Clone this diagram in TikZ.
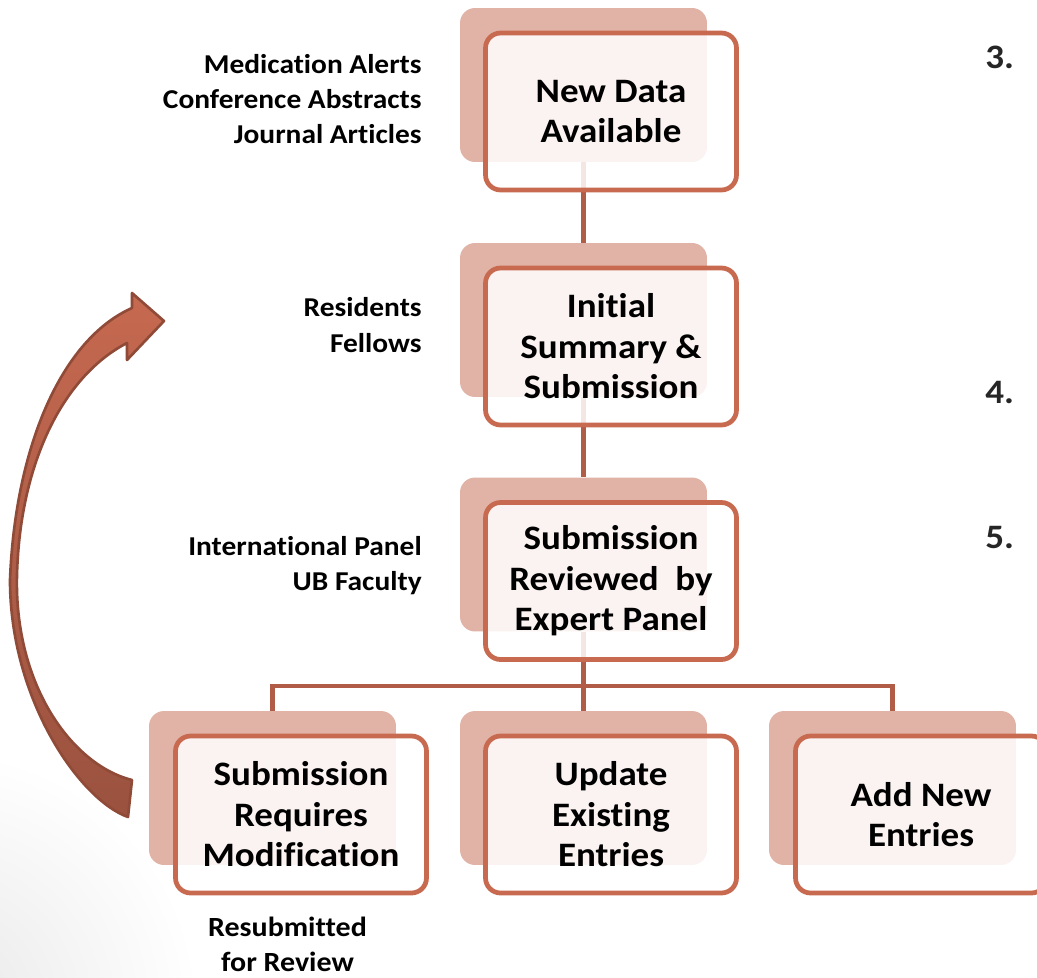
\documentclass[tikz,border=0pt]{standalone}
\usepackage{fontspec}
\setmainfont{Carlito}[FakeStretch=1.08, Ligatures=NoCommon]
\usetikzlibrary{positioning}

\definecolor{rust}{HTML}{C86A50}
\definecolor{blush}{HTML}{E1B3A6}
\definecolor{linkcol}{HTML}{B05C47}
\definecolor{arrowlight}{HTML}{C66950}
\definecolor{arrowdark}{HTML}{9A523F}
\definecolor{arrowedge}{HTML}{8F4A38}

\tikzset{
	backcard/.style={rectangle, rounded corners=0.3cm, fill=blush,
		minimum width=4.94cm, minimum height=3.08cm},
	card/.style={rectangle, rounded corners=0.3cm, draw=rust, line width=2.7pt,
		fill=white, fill opacity=0.85, text opacity=1,
		minimum width=5.02cm, minimum height=3.14cm, align=center,
		font=\fontsize{19.5}{23}\selectfont\bfseries},
	side/.style={align=right, anchor=east, inner sep=0pt,
		font=\fontsize{15.5}{20}\selectfont\bfseries},
	stepnum/.style={anchor=west, inner sep=0pt, text=black!85,
		font=\fontsize{19.5}{23}\selectfont\bfseries},
	link/.style={draw=linkcol, line width=2.7pt},
}

\begin{document}
\begin{tikzpicture}[x=0.02cm, y=-0.02cm]
	\useasboundingbox (0,0) rectangle (1037,977);
	\fill[white] (0,0) rectangle (1037,977);
	\begin{scope}
		\clip (0,0) rectangle (1037,977);
		\shade[inner color=black!9, outer color=white] (-60,1010) circle (260);
	\end{scope}

	% shadow cards
	\node[backcard] (new) at (583.5,85) {};
	\node[backcard] (init) at (583.5,320) {};
	\node[backcard] (rev) at (583.5,554.5) {};
	\node[backcard] (modif) at (272.5,788) {};
	\node[backcard] (update) at (583.5,788) {};
	\node[backcard] (add) at (892.5,788) {};

	% tree lines
	\coordinate (fork) at (583.5,686);
	\draw[link] (new.south) -- (init.north);
	\draw[link] (init.south) -- (rev.north);
	\draw[link] (rev.south) -- (update.north);
	\draw[link] (modif.north) |- (fork) -| (add.north);

	% front cards
	\node[card] (newF) at ([shift={(27.5,26.5)}]new) {New Data\\Available};
	\node[card] (initF) at ([shift={(27.5,26.5)}]init) {Initial\\Summary \&\\Submission};
	\node[card] (revF) at ([shift={(27.5,26.5)}]rev) {Submission\\Reviewed~ by\\Expert Panel};
	\node[card] (modifF) at ([shift={(28.5,26.5)}]modif) {Submission\\Requires\\Modification};
	\node[card] (updateF) at ([shift={(27.5,26.5)}]update) {Update\\Existing\\Entries};
	\node[card] (addF) at ([shift={(28.5,26.5)}]add) {Add New\\Entries};

	% who feeds each step
	\node[side] (sources) at (422,99) {Medication Alerts\\Conference Abstracts\\Journal Articles};
	\node[side] (authors) at (422,325) {Residents\\Fellows};
	\node[side] (panel) at (422,566) {International Panel\\UB Faculty};
	\node[align=center, inner sep=0pt, font=\fontsize{15.8}{20}\selectfont\bfseries] (resub) at (287.5,944) {Resubmitted\\for Review};

	\node[stepnum] (n3) at (985,57) {3.};
	\node[stepnum] (n4) at (985,392) {4.};
	\node[stepnum] (n5) at (985,537) {5.};

	% curved return arrow
	\draw[draw=arrowedge, line width=1.5pt, line join=round, top color=arrowlight, bottom color=arrowdark]
		(128,817) .. controls (80,800) and (10,700) .. (10,580)
		.. controls (15,450) and (60,340) .. (132,308)
		-- (132,293) -- (164,321) -- (127,360) -- (127,343)
		.. controls (65,375) and (20,460) .. (17,575)
		.. controls (14,685) and (72,765) .. (132,780)
		-- cycle;
\end{tikzpicture}
\end{document}
